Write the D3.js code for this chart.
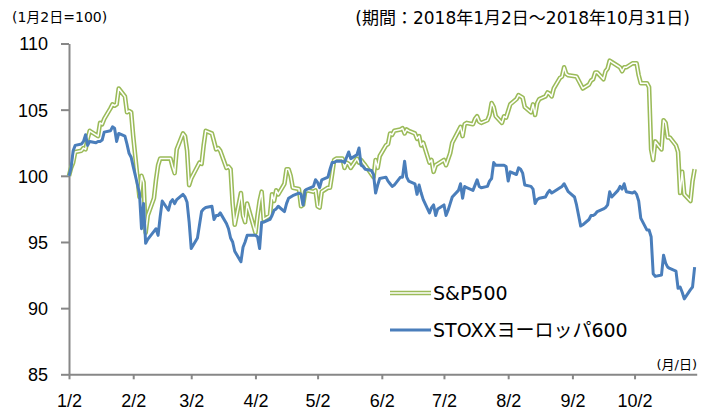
<!DOCTYPE html>
<html>
<head>
<meta charset="utf-8">
<script src="https://cdn.jsdelivr.net/npm/d3@7"></script>
<style>
  body { margin: 0; background: #fff; }
  svg { display: block; font-family: "DejaVu Sans", "Noto Sans CJK JP", sans-serif; }
  .axis path, .axis line { stroke: #878787; stroke-width: 2; }
  .axis text { fill: #000; font-size: 18px; }
</style>
</head>
<body>
<div class="chart"></div>
<script>
'use strict';

// values, index 1/2 = 100
const spData = [
  ['1/2', 100.0], ['1/3', 100.6], ['1/4', 101.0], ['1/5', 101.8], ['1/8', 101.9], ['1/9', 102.1],
  ['1/10', 102.0], ['1/11', 102.8], ['1/12', 103.4], ['1/16', 103.0], ['1/17', 104.0], ['1/18', 103.9],
  ['1/19', 104.3], ['1/22', 105.1], ['1/23', 105.4], ['1/24', 105.3], ['1/25', 105.4], ['1/26', 106.6],
  ['1/29', 106.0], ['1/30', 104.8], ['1/31', 104.9], ['2/1', 104.8], ['2/2', 103.0], ['2/5', 98.4],
  ['2/6', 100.0], ['2/7', 99.5], ['2/8', 95.7], ['2/9', 97.0], ['2/12', 98.3], ['2/13', 99.7],
  ['2/14', 100.8], ['2/15', 101.3], ['2/16', 101.3], ['2/20', 101.3], ['2/21', 100.7], ['2/22', 100.2],
  ['2/23', 102.0], ['2/26', 103.2], ['2/27', 103.0], ['2/28', 101.9], ['3/1', 99.3], ['3/2', 99.8],
  ['3/5', 100.7], ['3/6', 101.0], ['3/7', 100.9], ['3/8', 102.3], ['3/9', 103.4], ['3/12', 103.2],
  ['3/13', 102.6], ['3/14', 102.0], ['3/15', 102.1], ['3/16', 101.9], ['3/19', 100.6], ['3/20', 100.7],
  ['3/21', 100.5], ['3/22', 97.9], ['3/23', 96.3], ['3/26', 98.7], ['3/27', 97.0], ['3/28', 96.5],
  ['3/29', 97.9], ['4/2', 95.7], ['4/3', 97.0], ['4/4', 98.1], ['4/5', 98.8], ['4/6', 96.7],
  ['4/9', 97.0], ['4/10', 98.6], ['4/11', 98.1], ['4/12', 98.9], ['4/13', 98.6], ['4/16', 99.4],
  ['4/17', 100.5], ['4/18', 100.5], ['4/19', 100.0], ['4/20', 99.1], ['4/23', 99.0], ['4/24', 97.7],
  ['4/25', 97.8], ['4/26', 98.8], ['4/27', 98.9], ['4/30', 98.8], ['5/1', 98.9], ['5/2', 97.7],
  ['5/3', 97.6], ['5/4', 98.8], ['5/7', 99.1], ['5/8', 99.1], ['5/9', 100.1], ['5/10', 101.2],
  ['5/11', 101.3], ['5/14', 101.3], ['5/15', 100.6], ['5/16', 101.0], ['5/17', 100.9], ['5/18', 100.6],
  ['5/21', 101.3], ['5/22', 101.0], ['5/23', 101.2], ['5/24', 101.0], ['5/25', 100.8], ['5/29', 99.9],
  ['5/30', 101.2], ['5/31', 100.6], ['6/1', 101.5], ['6/4', 102.3], ['6/5', 102.4], ['6/6', 103.2],
  ['6/7', 103.1], ['6/8', 103.4], ['6/11', 103.5], ['6/12', 103.6], ['6/13', 103.2], ['6/14', 103.5],
  ['6/15', 103.4], ['6/18', 103.2], ['6/19', 102.8], ['6/20', 103.0], ['6/21', 102.3], ['6/22', 102.5],
  ['6/25', 101.0], ['6/26', 101.2], ['6/27', 100.3], ['6/28', 100.8], ['6/29', 100.9], ['7/2', 101.2],
  ['7/3', 100.8], ['7/5', 101.7], ['7/6', 102.5], ['7/9', 103.4], ['7/10', 103.7], ['7/11', 103.0],
  ['7/12', 103.9], ['7/13', 104.0], ['7/16', 103.9], ['7/17', 104.3], ['7/18', 104.5], ['7/19', 104.1],
  ['7/20', 104.0], ['7/23', 104.2], ['7/24', 104.6], ['7/25', 105.5], ['7/26', 105.2], ['7/27', 104.5],
  ['7/30', 104.0], ['7/31', 104.5], ['8/1', 104.4], ['8/2', 104.9], ['8/3', 105.4], ['8/6', 105.8],
  ['8/7', 106.1], ['8/8', 106.0], ['8/9', 105.9], ['8/10', 105.2], ['8/13', 104.8], ['8/14', 105.4],
  ['8/15', 104.6], ['8/16', 105.5], ['8/17', 105.8], ['8/20', 106.0], ['8/21', 106.3], ['8/22', 106.2],
  ['8/23', 106.0], ['8/24', 106.6], ['8/27', 107.4], ['8/28', 107.5], ['8/29', 108.2], ['8/30', 107.7],
  ['8/31', 107.6], ['9/4', 107.5], ['9/5', 107.2], ['9/6', 106.9], ['9/7', 106.6], ['9/10', 106.9],
  ['9/11', 107.2], ['9/12', 107.3], ['9/13', 107.8], ['9/14', 107.8], ['9/17', 107.3], ['9/18', 107.9],
  ['9/19', 108.1], ['9/20', 108.7], ['9/21', 108.6], ['9/24', 108.3], ['9/25', 108.2], ['9/26', 107.9],
  ['9/27', 108.2], ['9/28', 108.2], ['10/1', 108.5], ['10/2', 108.5], ['10/3', 108.5], ['10/4', 107.6],
  ['10/5', 107.0], ['10/8', 107.0], ['10/9', 106.7], ['10/10', 102.0], ['10/11', 101.2], ['10/12', 102.6],
  ['10/15', 102.0], ['10/16', 104.2], ['10/17', 104.0], ['10/18', 102.9], ['10/19', 102.9], ['10/22', 102.3],
  ['10/23', 101.8], ['10/24', 98.7], ['10/25', 100.3], ['10/26', 98.6], ['10/29', 98.1], ['10/30', 99.6],
  ['10/31', 100.5]
];

const stoxxData = [
  ['1/2', 100.0], ['1/3', 100.6], ['1/4', 101.9], ['1/5', 102.3], ['1/8', 102.4], ['1/9', 102.6],
  ['1/10', 103.1], ['1/11', 102.3], ['1/12', 102.6], ['1/15', 102.5], ['1/16', 102.6], ['1/17', 102.6],
  ['1/18', 102.7], ['1/19', 103.3], ['1/22', 103.4], ['1/23', 103.7], ['1/24', 103.6], ['1/25', 102.6],
  ['1/26', 103.2], ['1/29', 103.0], ['1/30', 102.4], ['1/31', 101.7], ['2/1', 101.4], ['2/2', 100.7],
  ['2/5', 98.7], ['2/6', 96.0], ['2/7', 97.9], ['2/8', 94.9], ['2/9', 95.2], ['2/12', 95.8],
  ['2/13', 96.0], ['2/14', 95.5], ['2/15', 96.9], ['2/16', 98.1], ['2/19', 97.4], ['2/20', 98.0],
  ['2/21', 98.2], ['2/22', 97.9], ['2/23', 98.2], ['2/26', 98.6], ['2/27', 98.4], ['2/28', 98.0],
  ['3/1', 96.5], ['3/2', 94.5], ['3/5', 95.3], ['3/6', 96.3], ['3/7', 97.3], ['3/8', 97.5],
  ['3/9', 97.6], ['3/12', 97.7], ['3/13', 96.7], ['3/14', 97.0], ['3/15', 97.0], ['3/16', 97.2],
  ['3/19', 96.4], ['3/20', 96.0], ['3/21', 95.3], ['3/22', 95.0], ['3/23', 94.3], ['3/26', 93.5],
  ['3/27', 94.6], ['3/28', 95.0], ['3/29', 95.5], ['4/2', 95.5], ['4/3', 95.4], ['4/4', 94.5],
  ['4/5', 96.5], ['4/6', 96.5], ['4/9', 96.7], ['4/10', 97.0], ['4/11', 97.4], ['4/12', 97.5],
  ['4/13', 97.7], ['4/16', 97.3], ['4/17', 97.9], ['4/18', 98.3], ['4/19', 98.4], ['4/20', 98.5],
  ['4/23', 98.7], ['4/24', 98.6], ['4/25', 97.8], ['4/26', 98.9], ['4/27', 99.0], ['4/30', 99.2],
  ['5/1', 99.7], ['5/2', 99.5], ['5/3', 99.1], ['5/4', 99.7], ['5/7', 99.9], ['5/8', 100.5],
  ['5/9', 101.0], ['5/10', 101.0], ['5/11', 101.1], ['5/14', 101.1], ['5/15', 101.0], ['5/16', 101.4],
  ['5/17', 101.8], ['5/18', 101.3], ['5/21', 101.6], ['5/22', 102.1], ['5/23', 100.8], ['5/24', 100.7],
  ['5/25', 100.5], ['5/28', 100.4], ['5/29', 100.1], ['5/30', 98.7], ['5/31', 99.3], ['6/1', 99.8],
  ['6/4', 99.9], ['6/5', 99.6], ['6/6', 99.4], ['6/7', 99.2], ['6/8', 99.3], ['6/11', 99.9],
  ['6/12', 99.9], ['6/13', 101.1], ['6/14', 99.9], ['6/15', 99.6], ['6/18', 99.4], ['6/19', 98.6],
  ['6/20', 99.3], ['6/21', 98.7], ['6/22', 98.2], ['6/25', 97.2], ['6/26', 97.6], ['6/27', 97.8],
  ['6/28', 97.0], ['6/29', 97.5], ['7/2', 97.8], ['7/3', 97.0], ['7/4', 97.4], ['7/5', 97.9],
  ['7/6', 98.4], ['7/9', 98.9], ['7/10', 99.4], ['7/11', 98.3], ['7/12', 99.2], ['7/13', 99.1],
  ['7/16', 98.9], ['7/17', 99.3], ['7/18', 99.7], ['7/19', 99.2], ['7/20', 99.1], ['7/23', 99.2],
  ['7/24', 99.6], ['7/25', 99.8], ['7/26', 101.0], ['7/27', 100.8], ['7/30', 100.8], ['7/31', 100.8],
  ['8/1', 100.7], ['8/2', 99.6], ['8/3', 100.3], ['8/6', 100.1], ['8/7', 100.6], ['8/8', 100.5],
  ['8/9', 100.2], ['8/10', 99.3], ['8/13', 99.2], ['8/14', 99.0], ['8/15', 97.9], ['8/16', 98.2],
  ['8/17', 98.3], ['8/20', 98.4], ['8/21', 98.7], ['8/22', 98.9], ['8/23', 98.7], ['8/24', 98.8],
  ['8/27', 99.1], ['8/28', 99.2], ['8/29', 99.4], ['8/30', 99.1], ['8/31', 98.8], ['9/3', 98.4],
  ['9/4', 97.8], ['9/5', 97.0], ['9/6', 96.2], ['9/7', 96.3], ['9/10', 96.7], ['9/11', 97.0],
  ['9/12', 97.0], ['9/13', 97.1], ['9/14', 97.3], ['9/17', 97.5], ['9/18', 97.6], ['9/19', 97.8],
  ['9/20', 98.8], ['9/21', 98.4], ['9/24', 98.9], ['9/25', 99.2], ['9/26', 99.0], ['9/27', 99.4],
  ['9/28', 98.8], ['10/1', 98.7], ['10/2', 98.8], ['10/3', 98.6], ['10/4', 98.1], ['10/5', 96.8],
  ['10/8', 95.9], ['10/9', 95.9], ['10/10', 95.4], ['10/11', 92.6], ['10/12', 92.4], ['10/15', 92.5],
  ['10/16', 94.0], ['10/17', 93.4], ['10/18', 93.1], ['10/19', 93.0], ['10/22', 92.8], ['10/23', 91.5],
  ['10/24', 91.6], ['10/25', 91.2], ['10/26', 90.7], ['10/29', 91.4], ['10/30', 91.6], ['10/31', 93.1]
];

const seriesNames = ['S&P500', 'STOXXヨーロッパ600'];
const xTickLabels = ['1/2', '2/2', '3/2', '4/2', '5/2', '6/2', '7/2', '8/2', '9/2', '10/2'];
const yTicks = [85, 90, 95, 100, 105, 110];

const width = 708;
const height = 414;
const green = '#9bbb59';
const blue = '#4a7ebb';

const parseDate = d3.timeParse('%Y/%m/%d');
function toDate(s) {
  return parseDate('2018/' + s);
}

const x = d3.scaleTime()
  .domain([toDate('1/2'), toDate('11/1')])
  .range([69, 696.7]);

const y = d3.scaleLinear()
  .domain([85, 110])
  .range([374.3, 43.5]);

const svg = d3.select('.chart').append('svg')
  .attr('width', width)
  .attr('height', height);

// axes
svg.append('g')
  .attr('class', 'axis axis--y')
  .attr('transform', 'translate(69,0)')
  .call(d3.axisLeft(y).tickValues(yTicks).tickSize(8).tickSizeOuter(0).tickPadding(13))
  .selectAll('text')
  .attr('dy', '0.36em');

svg.append('g')
  .attr('class', 'axis axis--x')
  .attr('transform', 'translate(0,374.3)')
  .call(d3.axisBottom(x)
    .tickValues(xTickLabels.map(toDate))
    .tickFormat((d, i) => xTickLabels[i])
    .tickSize(5)
    .tickSizeOuter(0)
    .tickPadding(15));

// lines
const line = d3.line()
  .x(d => x(toDate(d[0])))
  .y(d => y(d[1]));

const lines = svg.append('g').attr('fill', 'none').attr('stroke-linejoin', 'round');

lines.append('path')
  .attr('d', line(spData))
  .attr('stroke', green)
  .attr('stroke-width', 4.6);
lines.append('path')
  .attr('d', line(spData))
  .attr('stroke', '#fff')
  .attr('stroke-width', 1.5);

lines.append('path')
  .attr('d', line(stoxxData))
  .attr('stroke', blue)
  .attr('stroke-width', 3);

// legend
const legend = svg.append('g').attr('class', 'legend');
const legendRows = [
  {name: seriesNames[0], y: 293, double: true, color: green},
  {name: seriesNames[1], y: 330, double: false, color: blue}
];
legendRows.forEach(r => {
  legend.append('line')
    .attr('x1', 390).attr('x2', 431)
    .attr('y1', r.y).attr('y2', r.y)
    .attr('stroke', r.color)
    .attr('stroke-width', r.double ? 4.6 : 3);
  if (r.double) {
    legend.append('line')
      .attr('x1', 390).attr('x2', 431)
      .attr('y1', r.y).attr('y2', r.y)
      .attr('stroke', '#fff')
      .attr('stroke-width', 1.5);
  }
  legend.append('text')
    .attr('x', 433)
    .attr('y', r.y)
    .attr('dy', '0.36em')
    .attr('font-size', 19)
    .text(r.name);
});

// captions
svg.append('text')
  .attr('x', 12).attr('y', 22)
  .attr('font-size', 14)
  .text('(1月2日=100)');

svg.append('text')
  .attr('x', 690).attr('y', 24)
  .attr('text-anchor', 'end')
  .attr('font-size', 17)
  .text('(期間：2018年1月2日～2018年10月31日)');

svg.append('text')
  .attr('x', 697).attr('y', 369)
  .attr('text-anchor', 'end')
  .attr('font-size', 13)
  .text('(月/日)');
</script>
</body>
</html>
